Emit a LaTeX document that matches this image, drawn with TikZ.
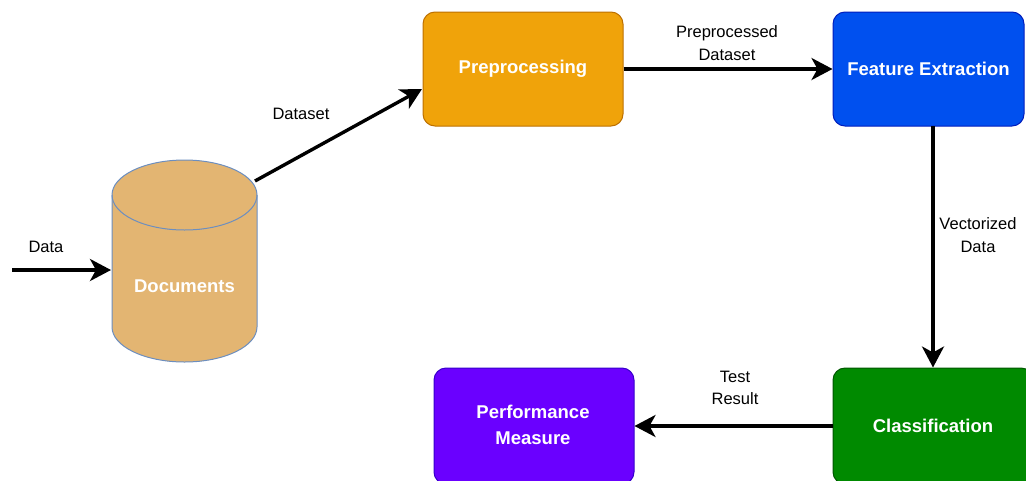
\documentclass[tikz,border=0pt]{standalone}
\usepackage{fontspec}
\setmainfont{Liberation Sans}
\usetikzlibrary{arrows.meta}

\definecolor{prepFill}{HTML}{F0A30A}
\definecolor{prepLine}{HTML}{BD7000}
\definecolor{featFill}{HTML}{0050EF}
\definecolor{featLine}{HTML}{001DBC}
\definecolor{clsFill}{HTML}{008A00}
\definecolor{clsLine}{HTML}{005700}
\definecolor{perfFill}{HTML}{6A00FF}
\definecolor{perfLine}{HTML}{3700CC}
\definecolor{docFill}{HTML}{E3B572}
\definecolor{docLine}{HTML}{6C8EBF}

\tikzset{
  stage/.style={draw, line width=1pt, rounded corners=12pt, inner sep=0pt,
    align=center, text=white,
    font=\fontsize{18.5}{26}\selectfont\bfseries},
  flow/.style={line width=3.4pt,
    -{Stealth[length=21pt,width=22pt,inset=6pt]}},
  lbl/.style={align=center, inner sep=0pt,
    font=\fontsize{16.5}{22.5}\selectfont}
}

\begin{document}
\begin{tikzpicture}[x=1pt,y=1pt]
  \useasboundingbox (0,0) rectangle (1026,-480);
  \clip (0,0) rectangle (1026,-480);

  % Documents store (cylinder)
  \path[fill=docFill, draw=docLine, line width=1pt]
    (112,-195) -- (112,-327)
    arc[start angle=180, end angle=360, x radius=72.5, y radius=35]
    -- (257,-195)
    arc[start angle=0, end angle=180, x radius=72.5, y radius=35] -- cycle;
  \draw[docLine, line width=1pt]
    (112,-195) arc[start angle=180, end angle=360, x radius=72.5, y radius=35];
  \node[text=white, font=\fontsize{18.5}{22}\selectfont\bfseries]
    (docs) at (184.5,-286) {Documents};
  \coordinate (docsIn) at (111,-270);
  \coordinate (docsOut) at (255,-181);
  \coordinate (dataSrc) at (12,-270);
  \coordinate (prepIn) at (422,-89);

  % Processing stages
  \node[stage, fill=prepFill, draw=prepLine, minimum width=200pt, minimum height=114pt]
    (prep) at (523,-69) {Preprocessing};
  \node[stage, fill=featFill, draw=featLine, minimum width=191pt, minimum height=114pt]
    (feat) at (928.5,-69) {Feature Extraction};
  \node[stage, fill=clsFill, draw=clsLine, minimum width=200pt, minimum height=116pt]
    (cls) at (933,-426) {};
  \node[text=white, font=\fontsize{18.5}{22}\selectfont\bfseries]
    (clsText) at (933,-426) {Classification};
  \node[stage, fill=perfFill, draw=perfLine, minimum width=200pt, minimum height=116pt]
    (perf) at (534,-426) {};
  \node[text=white, align=center, font=\fontsize{18.5}{26}\selectfont\bfseries]
    (perfText) at (533,-425) {Performance\\Measure};
  \coordinate (featOut) at (933,-126);

  % Connectors
  \draw[flow] (dataSrc) -- (docsIn);
  \draw[flow] (docsOut) -- (prepIn);
  \draw[flow] (prep.east) -- (feat.west);
  \draw[flow] (featOut) -- (cls.north);
  \draw[flow] (cls.west) -- (perf.east);

  % Connector labels
  \node[lbl] (lData) at (46,-247) {Data};
  \node[lbl] (lDataset) at (301,-114) {Dataset};
  \node[lbl] (lPrep) at (727,-43) {Preprocessed\\Dataset};
  \node[lbl] (lVec) at (978,-235) {Vectorized\\Data};
  \node[lbl] (lTest) at (735,-388) {Test\\Result};
\end{tikzpicture}
\end{document}
